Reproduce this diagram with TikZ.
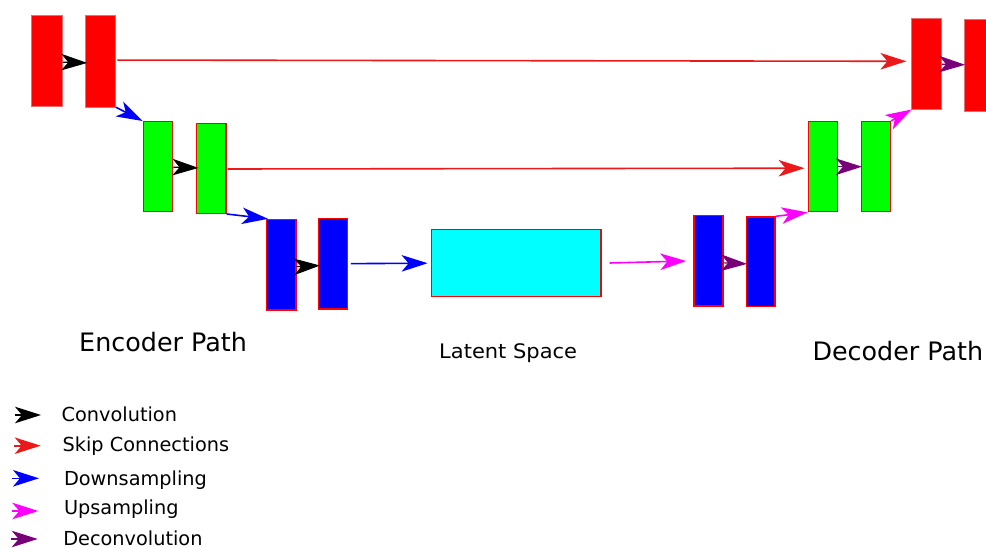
\documentclass[tikz,border=0pt]{standalone}
\usepackage{fontspec}
\setmainfont{DejaVu Sans}
\usetikzlibrary{arrows.meta}
\definecolor{cgreen}{RGB}{0,255,0}
\definecolor{cblue}{RGB}{0,0,255}
\definecolor{ccyan}{RGB}{0,255,255}
\definecolor{cmag}{RGB}{255,0,255}
\definecolor{cpurp}{RGB}{120,0,120}
\definecolor{cred}{RGB}{255,0,0}
\definecolor{cskip}{RGB}{235,25,25}
\definecolor{cpale}{RGB}{235,110,110}
\tikzset{
  blk/.style={rectangle, inner sep=0pt, draw=cred, line width=1.4pt},
  redblk/.style={rectangle, inner sep=0pt, fill=cred, draw=cpale, line width=0.5pt},
  tipst/.style={-{Stealth[length=26pt, width=16.5pt, inset=7pt]}},
  convarr/.style={tipst, black, line width=1.2pt},
  skiparr/.style={tipst, cskip, line width=1.6pt},
  downarr/.style={tipst, cblue, line width=1.6pt},
  uparr/.style={tipst, cmag, line width=1.6pt},
  deconvarr/.style={tipst, cpurp, line width=1.2pt},
  lbl/.style={inner sep=0pt, anchor=base west, font=\fontsize{25.4}{30}\selectfont},
  leg/.style={inner sep=0pt, anchor=base west, font=\fontsize{19.3}{23}\selectfont},
}
\begin{document}
\begin{tikzpicture}[x=1pt, y=-1pt]
\useasboundingbox (0,0) rectangle (986,548);
\fill[white] (0,0) rectangle (986,548);
% encoder
\node[redblk, minimum width=30.6, minimum height=91.3] (A1) at (47,60.7) {};
\node[redblk, minimum width=30.7, minimum height=91.3] (A2) at (100.35,61.35) {};
\node[blk, fill=cgreen, minimum width=29.4, minimum height=90] (B1) at (158,166.7) {};
\node[blk, fill=cgreen, minimum width=29.3, minimum height=90] (B2) at (211.35,168.3) {};
\node[blk, fill=cblue, minimum width=29.3, minimum height=90.7] (C1) at (281.35,264.65) {};
\node[blk, fill=cblue, minimum width=29.4, minimum height=90.7] (C2) at (333,263.65) {};
% latent
\node[blk, fill=ccyan, minimum width=169.7, minimum height=67] (L) at (516.15,263.2) {};
% decoder
\node[blk, fill=cblue, minimum width=29, minimum height=90.3] (D1) at (708.5,260.85) {};
\node[blk, fill=cblue, minimum width=28.3, minimum height=89.7] (D2) at (760.85,261.85) {};
\node[blk, fill=cgreen, minimum width=29, minimum height=90] (E1) at (822.8,166.7) {};
\node[blk, fill=cgreen, minimum width=28.6, minimum height=90] (E2) at (876,166.7) {};
\node[redblk, minimum width=30, minimum height=91] (F1) at (926.7,63.8) {};
\node[redblk, minimum width=30, minimum height=91.7] (F2) at (979.3,65.15) {};
% convolutions
\draw[convarr, shorten >=-2.5pt] ([yshift=-1.5pt]A1.east) -- ([yshift=-1.5pt]A2.west);
\draw[convarr, shorten >=-2.5pt] (B1) -- (B2);
\draw[convarr, shorten >=-2.5pt] ([yshift=-2pt]C1.east) -- ([yshift=-2pt]C2.west);
% deconvolutions
\draw[deconvarr, shorten >=-1pt] ([yshift=-2pt]D1.east) -- ([yshift=-2pt]D2.west);
\draw[deconvarr, shorten >=-1pt] (E1) -- (E2);
\draw[deconvarr, shorten >=-1pt] (F1) -- (F2);
% skip connections
\draw[skiparr, shorten <=1.5pt, shorten >=5pt] ([yshift=1.3pt]A2.east) -- ([yshift=2.5pt]F1.west);
\draw[skiparr, shorten <=1pt, shorten >=3pt] ([yshift=-0.7pt]B2.east) -- ([yshift=-1.5pt]E1.west);
% downsampling
\draw[downarr] (A2.south east) -- (B1.north west);
\draw[downarr, shorten >=-2pt] (B2.south east) -- (C1.north west);
\draw[downarr, shorten <=2.5pt, shorten >=3pt] (C2.east) -- (L.west);
% upsampling
\draw[uparr, shorten <=8pt, shorten >=7pt] (L.east) -- (D1.west);
\draw[uparr] (D2.north east) -- (E1.south west);
\draw[uparr] (E2.north east) -- (F1.south west);
% labels
\node[lbl] (enc) at (79,351.7) {Encoder Path};
\node[inner sep=0pt, anchor=base west, font=\fontsize{20}{24}\selectfont, xscale=1.05] (lat) at (439,358.3) {Latent Space};
\node[lbl] (dec) at (812.3,360.3) {Decoder Path};
% legend
\coordinate (k1a) at (15,415); \coordinate (k1b) at (41,415);
\coordinate (k2a) at (14,445.7); \coordinate (k2b) at (40.7,445.7);
\coordinate (k3a) at (12,478.3); \coordinate (k3b) at (39,478.3);
\coordinate (k4a) at (11.7,511); \coordinate (k4b) at (38.3,511);
\coordinate (k5a) at (10.7,539); \coordinate (k5b) at (37.7,539);
\draw[convarr] (k1a) -- (k1b);
\draw[skiparr] (k2a) -- (k2b);
\draw[downarr] (k3a) -- (k3b);
\draw[uparr] (k4a) -- (k4b);
\draw[deconvarr] (k5a) -- (k5b);
\node[leg] (t1) at (61.5,421.7) {Convolution};
\node[leg] (t2) at (62.5,451.7) {Skip Connections};
\node[leg] (t3) at (63.8,485.7) {Downsampling};
\node[leg] (t4) at (63.8,514.3) {Upsampling};
\node[leg] (t5) at (63.1,545) {Deconvolution};
\end{tikzpicture}
\end{document}
